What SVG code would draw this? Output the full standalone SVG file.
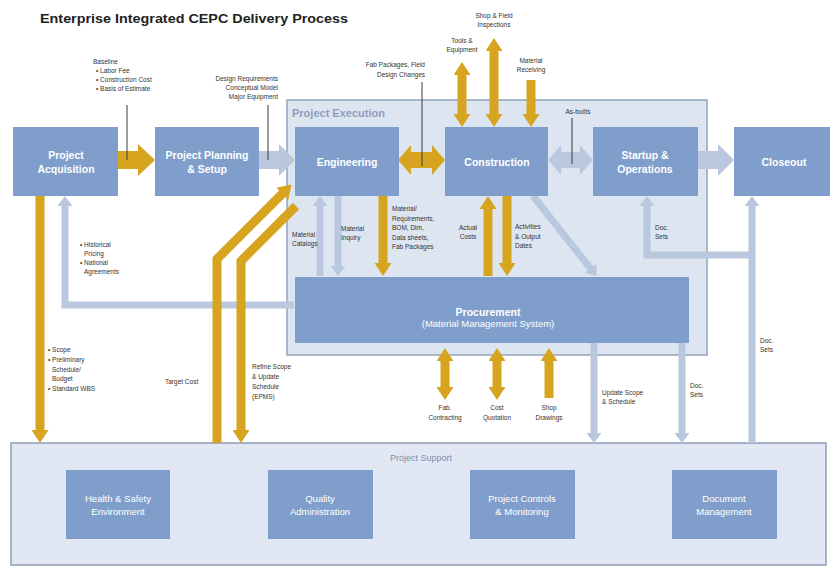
<svg xmlns="http://www.w3.org/2000/svg" width="830" height="570" viewBox="0 0 830 570">
  <style>
    .bg { fill: #ffffff; }
    .title { font-family: "Liberation Sans", Arial, sans-serif; font-size: 13px; font-weight: bold; fill: #222222; }
    .box { fill: #7f9ecb; }
    .nt { font-family: "Liberation Sans", Arial, sans-serif; font-size: 10.5px; font-weight: bold; fill: #ffffff; text-anchor: middle; }
    .st { font-family: "Liberation Sans", Arial, sans-serif; font-size: 9.5px; fill: #ffffff; text-anchor: middle; }
    .lbl { font-family: "Liberation Sans", Arial, sans-serif; font-size: 6.5px; fill: #333333; }
    .mid { text-anchor: middle; }
    .end { text-anchor: end; }
    .gold { fill: none; stroke: #d6a41f; stroke-width: 9; stroke-linejoin: miter; }
    .blue { fill: none; stroke: #b9c8de; stroke-width: 7; stroke-linejoin: miter; }
    .goldf { fill: #d6a41f; }
    .bluef { fill: #b9c8de; }
    .callout { fill: none; stroke: #3a3a3a; stroke-width: 1; }
  </style>
  <defs>
    <marker id="hg" markerUnits="userSpaceOnUse" viewBox="0 0 13 17" markerWidth="13" markerHeight="17" refX="1" refY="8.5" orient="auto-start-reverse">
      <path d="M0,0 L13,8.5 L0,17 z" fill="#d6a41f"/>
    </marker>
    <marker id="hb" markerUnits="userSpaceOnUse" viewBox="0 0 10 15" markerWidth="10" markerHeight="15" refX="1" refY="7.5" orient="auto-start-reverse">
      <path d="M0,0 L10,7.5 L0,15 z" fill="#b9c8de"/>
    </marker>
  </defs>

  <rect class="bg" x="0" y="0" width="830" height="570"/>

  <text class="title" x="40" y="23" textLength="308" lengthAdjust="spacingAndGlyphs">Enterprise Integrated CEPC Delivery Process</text>

  <!-- containers -->
  <g id="project-execution">
    <rect x="287" y="100" width="420" height="255" fill="#dde5f1" stroke="#93a3bd" stroke-width="1.5"/>
    <text x="292" y="117" font-family="Liberation Sans, Arial, sans-serif" font-size="11" font-weight="bold" fill="#8d9dbd">Project Execution</text>
  </g>
  <g id="project-support">
    <rect x="11" y="443" width="815" height="122" fill="#e1e8f3" stroke="#8f9cb2" stroke-width="1.5"/>
    <text x="421" y="461" font-family="Liberation Sans, Arial, sans-serif" font-size="9" fill="#7d8fb0" text-anchor="middle">Project Support</text>
  </g>

  <!-- connectors -->
  <g id="connectors">
    <!-- block arrows along the main flow -->
    <polygon class="goldf" points="118,151 138,151 138,144 155,160 138,176 138,169 118,169"/>
    <polygon class="bluef" points="259,151 279,151 279,144 295,160 279,176 279,169 259,169"/>
    <polygon class="goldf" points="398,160 411,145 411,152 432,152 432,145 445,160 432,175 432,168 411,168 411,175"/>
    <polygon class="bluef" points="548,160 561,145 561,152 580,152 580,145 593,160 580,175 580,168 561,168 561,175"/>
    <polygon class="bluef" points="698,151 718,151 718,144 734,160 718,176 718,169 698,169"/>

    <!-- callout lines -->
    <line class="callout" x1="127" y1="105" x2="127" y2="160"/>
    <line class="callout" x1="268" y1="105" x2="268" y2="160"/>
    <line class="callout" x1="422" y1="82" x2="422" y2="166"/>
    <line class="callout" x1="572" y1="118" x2="572" y2="164"/>

    <!-- construction site inputs -->
    <path class="gold" d="M462,74 V115" marker-start="url(#hg)" marker-end="url(#hg)"/>
    <path class="gold" d="M494,50 V115" marker-start="url(#hg)" marker-end="url(#hg)"/>
    <path class="gold" d="M531,80 V115" marker-end="url(#hg)"/>

    <!-- engineering / procurement -->
    <path class="blue" d="M320,276 V205" marker-end="url(#hb)"/>
    <path class="blue" d="M338,196 V267" marker-end="url(#hb)"/>
    <path class="gold" d="M383,196 V264" marker-end="url(#hg)"/>

    <!-- construction / procurement -->
    <path class="gold" d="M488,276 V208" marker-end="url(#hg)"/>
    <path class="gold" d="M507,196 V264" marker-end="url(#hg)"/>
    <path class="blue" d="M533,196 L591,269" marker-end="url(#hb)"/>

    <!-- document sets to startup and closeout -->
    <path class="blue" d="M752,443 V205" marker-end="url(#hb)"/>
    <path class="blue" d="M752,255 H647 V205" marker-end="url(#hb)"/>

    <!-- procurement outputs -->
    <path class="gold" d="M445,360 V388" marker-start="url(#hg)" marker-end="url(#hg)"/>
    <path class="gold" d="M497,360 V388" marker-start="url(#hg)" marker-end="url(#hg)"/>
    <path class="gold" d="M549,398 V360" marker-end="url(#hg)"/>
    <path class="blue" d="M594,343 V434" marker-end="url(#hb)"/>
    <path class="blue" d="M682,343 V434" marker-end="url(#hb)"/>

    <!-- acquisition and support links -->
    <path class="gold" d="M40,196 V431" marker-end="url(#hg)"/>
    <path class="blue" d="M294,305 H65 V205" marker-end="url(#hb)"/>
    <path class="gold" d="M217,443 V259 L283,193" marker-end="url(#hg)"/>
    <path class="gold" d="M296,206 L241,261 V431" marker-end="url(#hg)"/>
  </g>

  <!-- connector labels -->
  <g id="labels">
    <text class="lbl" x="93" y="64">Baseline</text>
    <text class="lbl" x="96" y="73">• Labor Fee</text>
    <text class="lbl" x="96" y="82">• Construction Cost</text>
    <text class="lbl" x="96" y="91">• Basis of Estimate</text>

    <text class="lbl end" x="278" y="81">Design Requirements</text>
    <text class="lbl end" x="278" y="90">Conceptual Model</text>
    <text class="lbl end" x="278" y="99">Major Equipment</text>

    <text class="lbl end" x="425" y="67">Fab Packages, Field</text>
    <text class="lbl end" x="425" y="77">Design Changes</text>

    <text class="lbl mid" x="494" y="18">Shop &amp; Field</text>
    <text class="lbl mid" x="494" y="27">Inspections</text>
    <text class="lbl mid" x="462" y="43">Tools &amp;</text>
    <text class="lbl mid" x="462" y="52">Equipment</text>
    <text class="lbl mid" x="531" y="63">Material</text>
    <text class="lbl mid" x="531" y="72">Receiving</text>

    <text class="lbl mid" x="578" y="114">As-builts</text>

    <text class="lbl" x="292" y="237">Material</text>
    <text class="lbl" x="292" y="246">Catalogs</text>
    <text class="lbl" x="341" y="231">Material</text>
    <text class="lbl" x="341" y="240">Inquiry</text>

    <text class="lbl" x="392" y="211">Material/</text>
    <text class="lbl" x="392" y="220.5">Requirements,</text>
    <text class="lbl" x="392" y="230">BOM, Dim,</text>
    <text class="lbl" x="392" y="239.5">Data sheets,</text>
    <text class="lbl" x="392" y="249">Fab Packages</text>

    <text class="lbl mid" x="468" y="230">Actual</text>
    <text class="lbl mid" x="468" y="239">Costs</text>
    <text class="lbl" x="515" y="229">Activities</text>
    <text class="lbl" x="515" y="238.5">&amp; Output</text>
    <text class="lbl" x="515" y="248">Dates</text>

    <text class="lbl" x="655" y="230">Doc.</text>
    <text class="lbl" x="655" y="239">Sets</text>

    <text class="lbl" x="80" y="247">• Historical</text>
    <text class="lbl" x="84" y="256">Pricing</text>
    <text class="lbl" x="80" y="265">• National</text>
    <text class="lbl" x="84" y="274">Agreements</text>

    <text class="lbl" x="48" y="352">• Scope</text>
    <text class="lbl" x="48" y="362">• Preliminary</text>
    <text class="lbl" x="52" y="372">Schedule/</text>
    <text class="lbl" x="52" y="381">Budget</text>
    <text class="lbl" x="48" y="391">• Standard WBS</text>

    <text class="lbl" x="165" y="384">Target Cost</text>

    <text class="lbl" x="252" y="369">Refine Scope</text>
    <text class="lbl" x="252" y="379">&amp; Update</text>
    <text class="lbl" x="252" y="389">Schedule</text>
    <text class="lbl" x="252" y="399">(EPMS)</text>

    <text class="lbl mid" x="445" y="410">Fab.</text>
    <text class="lbl mid" x="445" y="420">Contracting</text>
    <text class="lbl mid" x="497" y="410">Cost</text>
    <text class="lbl mid" x="497" y="420">Quotation</text>
    <text class="lbl mid" x="549" y="410">Shop</text>
    <text class="lbl mid" x="549" y="420">Drawings</text>

    <text class="lbl" x="602" y="395">Update Scope</text>
    <text class="lbl" x="602" y="404">&amp; Schedule</text>
    <text class="lbl" x="690" y="388">Doc.</text>
    <text class="lbl" x="690" y="397">Sets</text>
    <text class="lbl" x="760" y="343">Doc.</text>
    <text class="lbl" x="760" y="352">Sets</text>
  </g>

  <!-- process nodes -->
  <g id="project-acquisition">
    <rect class="box" x="13" y="127" width="105" height="69"/>
    <text class="nt" x="66" y="159">Project</text>
    <text class="nt" x="66" y="173">Acquisition</text>
  </g>
  <g id="project-planning">
    <rect class="box" x="155" y="127" width="104" height="69"/>
    <text class="nt" x="207" y="159">Project Planning</text>
    <text class="nt" x="207" y="173">&amp; Setup</text>
  </g>
  <g id="engineering">
    <rect class="box" x="295" y="127" width="104" height="69"/>
    <text class="nt" x="347" y="166">Engineering</text>
  </g>
  <g id="construction">
    <rect class="box" x="445" y="127" width="103" height="69"/>
    <text class="nt" x="497" y="166">Construction</text>
  </g>
  <g id="startup-operations">
    <rect class="box" x="593" y="127" width="105" height="69"/>
    <text class="nt" x="645" y="159">Startup &amp;</text>
    <text class="nt" x="645" y="173">Operations</text>
  </g>
  <g id="closeout">
    <rect class="box" x="734" y="127" width="96" height="69"/>
    <text class="nt" x="784" y="166">Closeout</text>
  </g>
  <g id="procurement">
    <rect class="box" x="295" y="277" width="394" height="66"/>
    <text class="nt" x="488" y="316">Procurement</text>
    <text class="st" x="488" y="327">(Material Management System)</text>
  </g>

  <!-- support nodes -->
  <g id="health-safety">
    <rect class="box" x="66" y="470" width="104" height="69"/>
    <text class="st" x="118" y="502">Health &amp; Safety</text>
    <text class="st" x="118" y="515">Environment</text>
  </g>
  <g id="quality">
    <rect class="box" x="268" y="470" width="105" height="69"/>
    <text class="st" x="320" y="502">Quality</text>
    <text class="st" x="320" y="515">Administration</text>
  </g>
  <g id="project-controls">
    <rect class="box" x="470" y="470" width="105" height="69"/>
    <text class="st" x="522" y="502">Project Controls</text>
    <text class="st" x="522" y="515">&amp; Monitoring</text>
  </g>
  <g id="document-management">
    <rect class="box" x="672" y="470" width="105" height="69"/>
    <text class="st" x="724" y="502">Document</text>
    <text class="st" x="724" y="515">Management</text>
  </g>
</svg>
